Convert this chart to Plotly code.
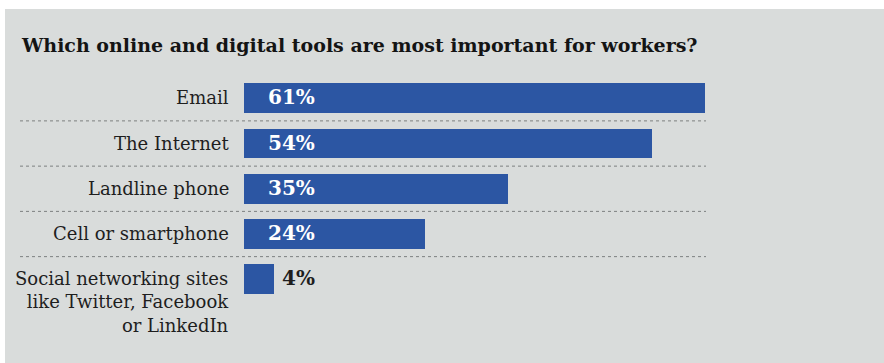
import plotly.graph_objects as go

categories = ["Email", "The Internet", "Landline phone", "Cell or smartphone",
              "Social networking sites<br>like Twitter, Facebook<br>or LinkedIn"]
values = [61, 54, 35, 24, 4]
value_labels = ["61%", "54%", "35%", "24%", "4%"]
title_text = "Which online and digital tools are most important for workers?"

W, H = 884, 363
ML, MR, MT, MB = 244, 178, 76, 13
PW = W - ML - MR
PH = H - MT - MB
PX_PER_UNIT = 7.55
BAR_COLOR = "#2c56a3"
BG = "#d9dcdb"
SERIF = "DejaVu Serif"

ypos = list(range(len(categories)))

fig = go.Figure()
fig.add_trace(go.Bar(
    x=values, y=ypos, orientation="h",
    marker=dict(color=BAR_COLOR, line=dict(width=0)),
    width=0.66, hoverinfo="skip",
))

def px_to_paper_x(px):
    return (px - ML) / PW

def px_to_paper_y(py):
    return (H - MB - py) / PH

shapes = [
    dict(type="rect", xref="paper", yref="paper",
         x0=px_to_paper_x(5), x1=px_to_paper_x(W + 2),
         y0=px_to_paper_y(H + 2), y1=px_to_paper_y(9),
         fillcolor=BG, line=dict(width=0), layer="below"),
]
for i in range(len(categories) - 1):
    shapes.append(dict(type="line", xref="paper", yref="y",
                       x0=px_to_paper_x(20), x1=px_to_paper_x(706),
                       y0=i + 0.5, y1=i + 0.5,
                       line=dict(color="#7d8080", width=1, dash="dot"),
                       layer="below"))

annotations = []
for i, (cat, v, lab) in enumerate(zip(categories, values, value_labels)):
    annotations.append(dict(
        x=0, y=i, xref="paper", yref="y", text=cat, showarrow=False,
        xanchor="right", yanchor="top", align="right", xshift=-13, yshift=13,
        font=dict(family=SERIF, size=18, color="#1e1e1e")))
    if v >= 10:
        annotations.append(dict(
            x=0, y=i, xref="x", yref="y", text="<b>" + lab + "</b>", showarrow=False,
            xanchor="left", yanchor="middle", xshift=22, yshift=1,
            font=dict(family=SERIF, size=20, color="white")))
    else:
        annotations.append(dict(
            x=v, y=i, xref="x", yref="y", text="<b>" + lab + "</b>", showarrow=False,
            xanchor="left", yanchor="middle", xshift=6, yshift=1,
            font=dict(family=SERIF, size=20, color="#1e1e1e")))

top_range = -0.5 - (MT - (99 - 0.5 * 45.25)) / 45.25
fig.update_layout(
    width=W, height=H,
    margin=dict(l=ML, r=MR, t=MT, b=MB, pad=0),
    paper_bgcolor="white", plot_bgcolor="rgba(0,0,0,0)",
    showlegend=False,
    title=dict(text="<b>" + title_text + "</b>", xref="container", yref="container",
               x=22 / W, y=1 - 45 / H, xanchor="left", yanchor="middle",
               font=dict(family=SERIF, size=19, color="#141414")),
    xaxis=dict(range=[0, PW / PX_PER_UNIT], visible=False, fixedrange=True),
    yaxis=dict(range=[top_range + PH / 45.25, top_range], visible=False, fixedrange=True),
    shapes=shapes, annotations=annotations,
    bargap=0,
)

fig.write_html("out.html")
